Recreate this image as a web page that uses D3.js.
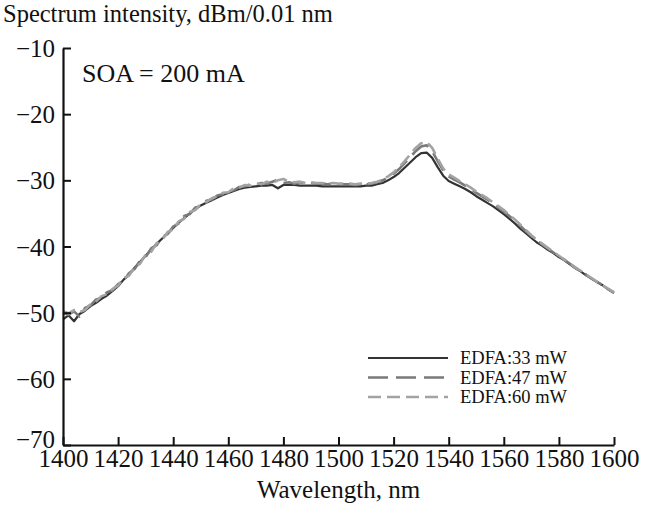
<!DOCTYPE html>
<html>
<head>
<meta charset="utf-8">
<script src="https://cdn.jsdelivr.net/npm/d3@7"></script>
<style>
  html, body { margin: 0; padding: 0; background: #fff; }
  svg { display: block; }
  text { font-family: "Liberation Serif", "Times New Roman", serif; fill: #111; }
</style>
</head>
<body>
<svg id="chart" width="650" height="505"></svg>
<script>
// ---- data ----
const wavelengths = d3.range(1400, 1601, 2);

const edfa33 = [
  -51.0, -50.4, -51.3, -50.2, -49.7, -49.0, -48.5, -47.9, -47.4, -46.7,
  -46.0, -45.0, -44.3, -43.2, -42.3, -41.4, -40.5, -39.6, -38.8, -38.0,
  -37.2, -36.4, -35.7, -35.0, -34.4, -33.8, -33.4, -33.0, -32.6, -32.2,
  -31.9, -31.6, -31.3, -31.1, -31.0, -30.9, -30.8, -30.8, -30.7, -31.2,
  -30.7, -30.7, -30.7, -30.8, -30.8, -30.8, -30.8, -30.9, -30.9, -30.9,
  -30.9, -30.9, -30.9, -30.9, -30.9, -30.8, -30.8, -30.6, -30.4, -30.0,
  -29.5, -28.9, -28.1, -27.3, -26.5, -25.9, -25.8, -26.6, -28.0, -29.3,
  -30.1, -30.5, -30.9, -31.3, -31.8, -32.4, -32.9, -33.4, -33.9, -34.5,
  -35.1, -35.8, -36.5, -37.3, -38.0, -38.7, -39.4, -39.9, -40.5, -41.0,
  -41.6, -42.1, -42.7, -43.3, -43.8, -44.4, -44.9, -45.4, -45.9, -46.5,
  -47.0
];

const edfa47 = [
  -50.0, -50.3, -49.8, -50.6, -49.3, -48.9, -48.0, -47.8, -46.9, -46.6,
  -45.7, -45.2, -44.0, -43.4, -42.1, -41.6, -40.3, -39.8, -38.6, -38.1,
  -37.0, -36.5, -35.4, -35.1, -34.1, -33.9, -33.1, -32.9, -32.3, -32.1,
  -31.6, -31.5, -31.0, -30.9, -30.6, -30.7, -30.4, -30.5, -30.2, -29.9,
  -30.4, -30.3, -30.5, -30.3, -30.5, -30.4, -30.5, -30.5, -30.6, -30.5,
  -30.6, -30.6, -30.6, -30.7, -30.6, -30.6, -30.5, -30.3, -30.0, -29.6,
  -29.0, -28.3, -27.4, -26.5, -25.6, -24.9, -24.7, -25.6, -27.1, -28.5,
  -29.4, -29.9, -30.3, -30.8, -31.3, -31.9, -32.4, -32.9, -33.5, -34.1,
  -34.7, -35.4, -36.1, -36.9, -37.7, -38.4, -39.1, -39.7, -40.3, -40.9,
  -41.5, -42.0, -42.6, -43.2, -43.8, -44.3, -44.9, -45.4, -45.9, -46.5,
  -47.0
];

const edfa60 = [
  -49.8, -50.1, -49.6, -49.9, -49.6, -48.7, -48.3, -47.5, -47.2, -46.4,
  -45.9, -44.8, -44.4, -43.1, -42.6, -41.2, -40.8, -39.5, -39.0, -37.8,
  -37.4, -36.2, -35.8, -34.8, -34.5, -33.6, -33.3, -32.7, -32.4, -31.9,
  -31.8, -31.2, -31.1, -30.7, -30.8, -30.4, -30.6, -30.2, -30.4, -30.0,
  -29.8, -30.2, -30.3, -30.2, -30.4, -30.3, -30.4, -30.4, -30.5, -30.4,
  -30.5, -30.5, -30.5, -30.6, -30.5, -30.5, -30.4, -30.2, -29.9, -29.4,
  -28.8, -28.0, -27.1, -26.1, -25.1, -24.4, -24.2, -25.1, -26.7, -28.2,
  -29.1, -29.6, -30.1, -30.6, -31.1, -31.7, -32.2, -32.7, -33.3, -33.9,
  -34.5, -35.2, -35.9, -36.7, -37.5, -38.3, -39.0, -39.6, -40.2, -40.8,
  -41.4, -42.0, -42.6, -43.2, -43.7, -44.3, -44.8, -45.4, -45.9, -46.4,
  -46.9
];

const seriesNames = ["EDFA:33 mW", "EDFA:47 mW", "EDFA:60 mW"];
const xTicks = [1400, 1420, 1440, 1460, 1480, 1500, 1520, 1540, 1560, 1580, 1600];
const yTicks = [-70, -60, -50, -40, -30, -20, -10];
const yTitle = "Spectrum intensity, dBm/0.01 nm";
const xTitle = "Wavelength, nm";
const annotation = "SOA = 200 mA";

// ---- layout ----
const svg = d3.select("#chart");
const x = d3.scaleLinear().domain([1400, 1600]).range([63, 614]);
const y = d3.scaleLinear().domain([-70, -10]).range([445, 48]);

const styles = [
  { color: "#333333", width: 2.2, dash: null },
  { color: "#7a7a7a", width: 2.6, dash: "20,8" },
  { color: "#a3a3a3", width: 2.6, dash: "13,6" }
];
const allSeries = [edfa33, edfa47, edfa60];

// lines
const line = d3.line()
  .x((d, i) => x(wavelengths[i]))
  .y(d => y(d));

allSeries.forEach((s, k) => {
  svg.append("path")
    .datum(s)
    .attr("fill", "none")
    .attr("stroke", styles[k].color)
    .attr("stroke-width", styles[k].width)
    .attr("stroke-linejoin", "round")
    .attr("stroke-dasharray", styles[k].dash)
    .attr("d", line);
});

// axes
const xAxis = svg.append("g")
  .attr("transform", `translate(0,${y(-70)})`)
  .call(d3.axisBottom(x).tickValues(xTicks).tickFormat(d3.format("d"))
        .tickSizeInner(-8).tickSizeOuter(0));
xAxis.select(".domain").attr("stroke", "#111").attr("stroke-width", 2.2);
xAxis.selectAll(".tick line").attr("stroke", "#111").attr("stroke-width", 2);
xAxis.selectAll(".tick text")
  .attr("y", 22).attr("dy", 0)
  .style("font-family", '"Liberation Serif", serif')
  .style("font-size", "25px").attr("fill", "#111");

const yAxis = svg.append("g")
  .attr("transform", `translate(${x(1400)},0)`)
  .call(d3.axisLeft(y).tickValues(yTicks).tickFormat(d => d3.format("d")(d).replace("-", "\u2212"))
        .tickSizeInner(-8).tickSizeOuter(0).tickPadding(8));
yAxis.select(".domain").attr("stroke", "#111").attr("stroke-width", 2.2);
yAxis.selectAll(".tick line").attr("stroke", "#111").attr("stroke-width", 2);
yAxis.selectAll(".tick text")
  .attr("x", -8).attr("dy", d => d === -70 ? "0.08em" : "0.34em")
  .style("font-family", '"Liberation Serif", serif')
  .style("font-size", "25px").attr("fill", "#111");

// titles
svg.append("text").attr("x", 3).attr("y", 22)
  .style("font-size", "24.5px").text(yTitle);
svg.append("text").attr("x", (x(1400) + x(1600)) / 2).attr("y", 498)
  .attr("text-anchor", "middle").style("font-size", "25px").text(xTitle);
svg.append("text").attr("x", 82).attr("y", 82)
  .style("font-size", "26px").text(annotation);

// legend
const legend = svg.append("g");
seriesNames.forEach((name, k) => {
  const ly = 358 + k * 19.5;
  legend.append("line")
    .attr("x1", 368).attr("x2", 448).attr("y1", ly).attr("y2", ly)
    .attr("stroke", styles[k].color).attr("stroke-width", styles[k].width)
    .attr("stroke-dasharray", styles[k].dash);
  legend.append("text").attr("x", 460).attr("y", ly).attr("dy", "0.35em")
    .style("font-size", "18.5px").text(name);
});
</script>
</body>
</html>
